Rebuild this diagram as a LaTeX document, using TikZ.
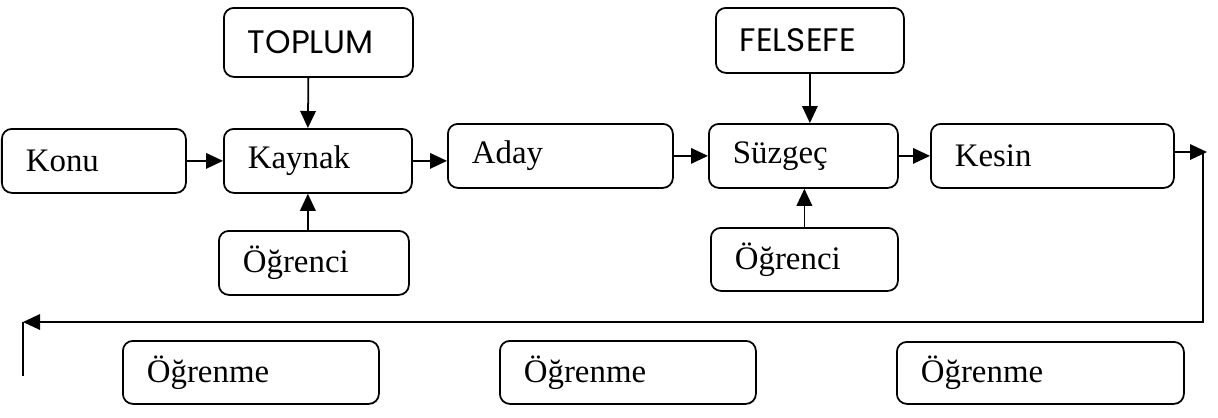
\documentclass[tikz,border=0pt]{standalone}
\usepackage{fontspec}
\setmainfont{Liberation Serif}
\newfontfamily\gothic{Poppins}
\usepackage{tikz}
\usetikzlibrary{arrows.meta}

\tikzset{
  kutu/.style 2 args={draw,line width=1pt,rounded corners=2mm,anchor=north west,
    inner xsep=4.8mm,inner ysep=0pt,text width=#1,minimum height=#2,align=left,
    font=\fontsize{18.7}{22}\selectfont},
  baslik/.style={font=\gothic\fontsize{18.5}{22}\selectfont},
  ok/.style={line width=1pt,-{Triangle[length=3.4mm,width=3.1mm]}},
  cizgi/.style={line width=1pt}
}

\begin{document}
\begin{tikzpicture}[x=0.2mm,y=-0.2mm]
  \useasboundingbox (0,0) rectangle (1218,417);

  % ana akis
  \node[kutu={27.2mm}{12.8mm}] (konu) at (1,128) {Konu};
  \node[kutu={28.0mm}{12.8mm}] (kaynak) at (223,128) {Kaynak};
  \node[kutu={35.4mm}{12.8mm}] (aday) at (447,123) {Aday};
  \node[kutu={28.2mm}{12.8mm}] (suzgec) at (708,123) {Süzgeç};
  \node[kutu={39.0mm}{12.8mm}] (kesin) at (930,123) {Kesin};

  % ust ve alt girdiler
  \node[kutu={28.2mm}{13.8mm},baslik] (toplum) at (223,7) {TOPLUM};
  \node[kutu={28.0mm}{13.0mm},baslik] (felsefe) at (715,7) {FELSEFE};
  \node[kutu={28.4mm}{12.8mm}] (ogrenci1) at (218,230) {Öğrenci};
  \node[kutu={27.8mm}{12.6mm}] (ogrenci2) at (710,227) {Öğrenci};

  % geri besleme satiri
  \node[kutu={41.6mm}{12.6mm}] (ogrenme1) at (122,340) {Öğrenme};
  \node[kutu={41.6mm}{12.6mm}] (ogrenme2) at (499,340) {Öğrenme};
  \node[kutu={47.8mm}{12.4mm}] (ogrenme3) at (896,341) {Öğrenme};

  \coordinate (ust) at (1207,152);
  \coordinate (kose) at (1203,322);
  \coordinate (sol) at (23,322);
  \coordinate (alt) at (23,376);

  \draw[ok] (konu.east) -- (kaynak.west);
  \draw[ok] (kaynak.east) -- (kaynak.east -| aday.west);
  \draw[ok] (aday.east) -- (suzgec.west);
  \draw[ok] (suzgec.east) -- (kesin.west);
  \draw[ok] (kesin.east |- ust) -- (ust);

  \draw[ok] ([xshift=-2mm]toplum.south) -- ([xshift=-2mm]kaynak.north);
  \draw[ok] (felsefe.south) -- (felsefe.south |- suzgec.north);
  \draw[ok] ([xshift=-1.2mm]ogrenci1.north) -- ([xshift=-1.2mm]ogrenci1.north |- kaynak.south);
  \draw[ok] (ogrenci2.north) -- (ogrenci2.north |- suzgec.south);

  \draw[ok] (kose |- ust) -- (kose) -- (sol);
  \draw[cizgi] (sol) -- (alt);
\end{tikzpicture}
\end{document}
